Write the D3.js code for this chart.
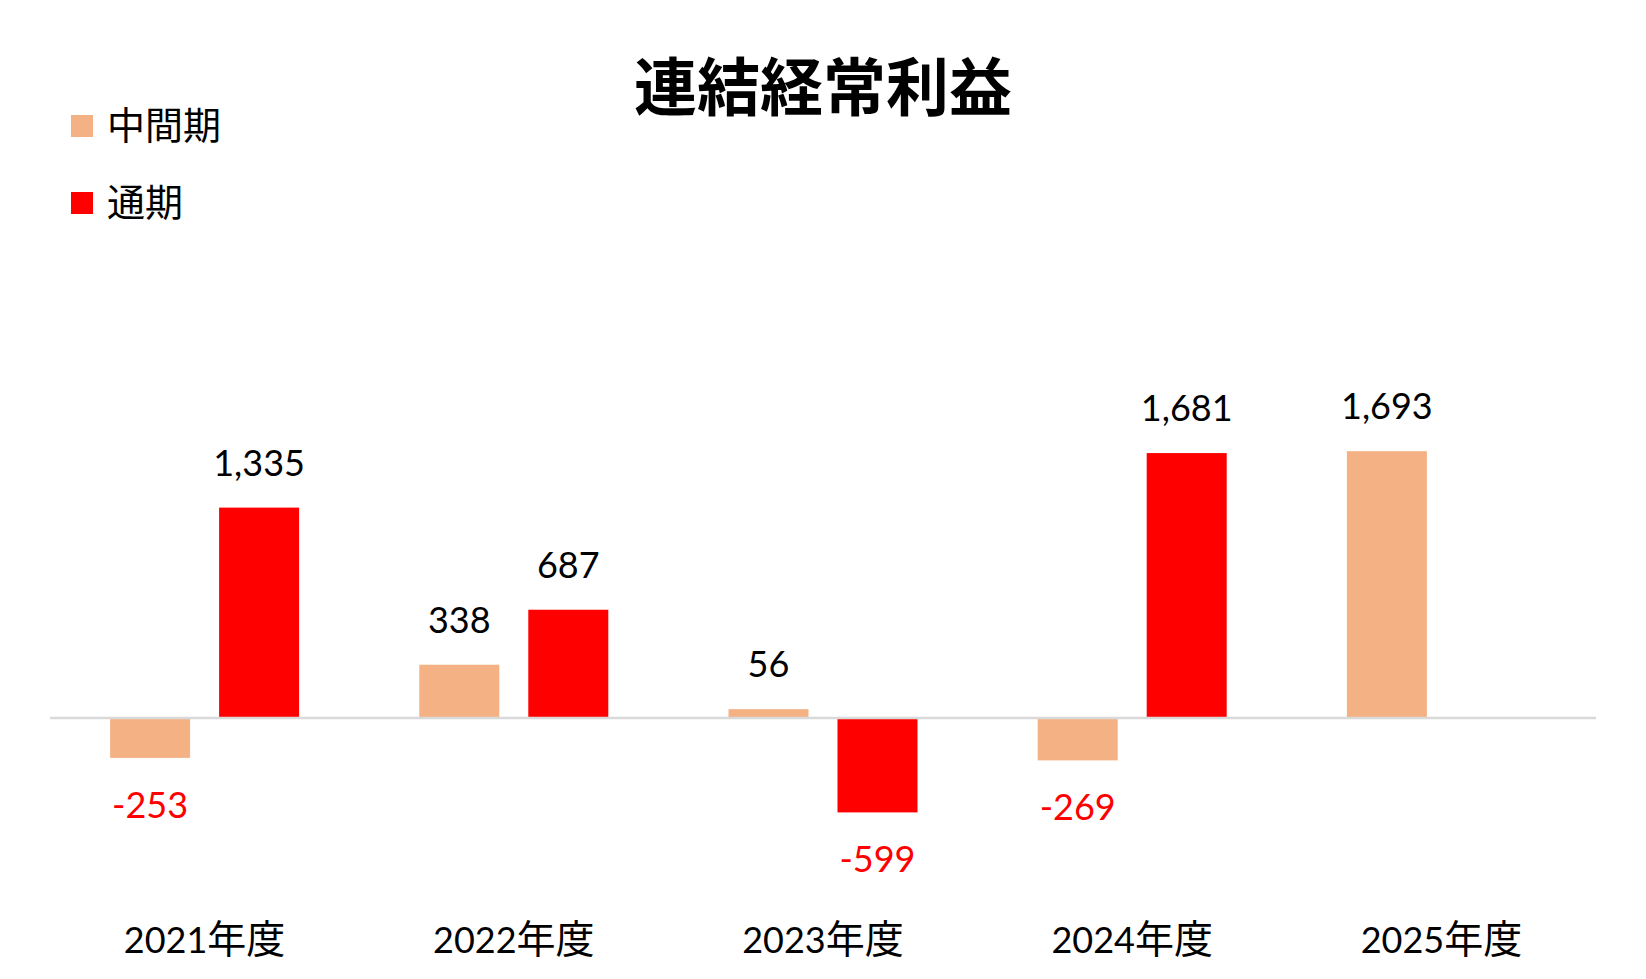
<!DOCTYPE html>
<html><head><meta charset="utf-8">
<script src="https://cdn.jsdelivr.net/npm/d3@7"></script>
<style>html,body{margin:0;padding:0;background:#fff;}svg{display:block;}</style>
</head><body>
<svg id="chart" width="1646" height="979"></svg>
<script>
const title = "連結経常利益";
const categories = ["2021年度","2022年度","2023年度","2024年度","2025年度"];
const seriesNames = ["中間期","通期"];
const interim = [-253, 338, 56, -269, 1693];
const fullYear = [1335, 687, -599, 1681, null];
const seriesColors = ["#f4b183", "#ff0000"];

const svg = d3.select("#chart");
const W = 1646, H = 979;
const latin = "Lato, 'Noto Sans', sans-serif";
const cjk = "'Noto Sans CJK JP', sans-serif";

const x0 = d3.scaleBand().domain(categories).range([50, 1596]).padding(0);
const bw = x0.bandwidth();
const x1 = d3.scaleBand().domain(seriesNames).range([(bw-189)/2, (bw+189)/2]).paddingInner(0.266).paddingOuter(0);
const y = d3.scaleLinear().domain([-800, 2000]).range([718 + 800*0.1576, 718 - 2000*0.1576]);

const rows = [];
categories.forEach((c, i) => {
  [interim[i], fullYear[i]].forEach((v, s) => {
    if (v !== null && v !== undefined) rows.push({cat: c, s: seriesNames[s], color: seriesColors[s], v});
  });
});

// bars
svg.append("g").selectAll("rect").data(rows).join("rect")
  .attr("x", d => x0(d.cat) + x1(d.s))
  .attr("width", x1.bandwidth())
  .attr("y", d => Math.min(y(d.v), y(0)))
  .attr("height", d => Math.abs(y(d.v) - y(0)))
  .attr("fill", d => d.color);

// zero line
svg.append("line")
  .attr("x1", x0.range()[0]).attr("x2", x0.range()[1])
  .attr("y1", y(0)).attr("y2", y(0))
  .attr("stroke", "#d9d9d9").attr("stroke-width", 2.5);

// value labels
const fmt = v => d3.format(",")(v).replace("\u2212", "-");
svg.append("g").selectAll("text").data(rows).join("text")
  .attr("x", d => x0(d.cat) + x1(d.s) + x1.bandwidth()/2)
  .attr("y", d => d.v >= 0 ? y(d.v) - 32 : y(d.v) + 60)
  .attr("text-anchor", "middle")
  .attr("font-family", latin)
  .attr("font-size", 36)
  .attr("fill", d => d.v >= 0 ? "#000" : "#ff0000")
  .text(d => fmt(d.v));

// category labels
const cat = svg.append("g").selectAll("text").data(categories).join("text")
  .attr("x", d => x0(d) + bw/2)
  .attr("y", 953)
  .attr("text-anchor", "middle")
  .attr("fill", "#000");
cat.append("tspan").attr("font-family", latin).attr("font-size", 36).text(d => d.match(/^\d+/)[0]);
cat.append("tspan").attr("font-family", cjk).attr("font-size", 39).text(d => d.replace(/^\d+/, ""));

// title
svg.append("text")
  .attr("x", W/2).attr("y", 110)
  .attr("text-anchor", "middle")
  .attr("font-family", cjk)
  .attr("font-weight", "bold")
  .attr("font-size", 63)
  .attr("fill", "#000")
  .text(title);

// legend
const legendY = [126, 203];
const lg = svg.append("g").selectAll("g").data(seriesNames).join("g")
  .attr("transform", (d, i) => `translate(71,${legendY[i]})`);
lg.append("rect").attr("x", 0).attr("y", -11).attr("width", 22).attr("height", 22)
  .attr("fill", (d, i) => seriesColors[i]);
lg.append("text").attr("x", 36).attr("y", 13)
  .attr("font-family", cjk).attr("font-size", 38).attr("fill", "#000")
  .text(d => d);
</script>
</body></html>
